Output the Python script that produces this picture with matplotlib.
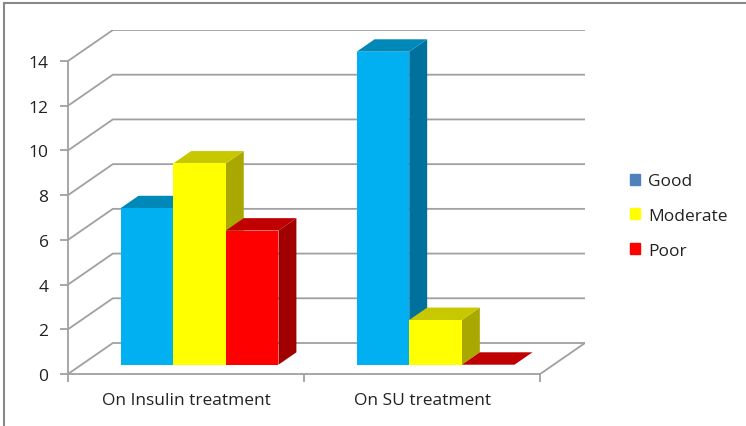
import matplotlib
matplotlib.use('Agg')
import matplotlib.pyplot as plt
from matplotlib.patches import Polygon
from matplotlib.lines import Line2D

categories = ['On Insulin treatment', 'On SU treatment']
series = ['Good', 'Moderate', 'Poor']
good = [7, 14]
moderate = [9, 2]
poor = [6, 0]
yticks = [0, 2, 4, 6, 8, 10, 12, 14]

front_cols = ['#00B0F0', '#FFFF00', '#FF0000']
top_cols = ['#0088B8', '#C8C800', '#C00000']
side_cols = ['#00709C', '#A8A800', '#A00000']
legend_cols = ['#4F81BD', '#FFFF00', '#FF0000']

plt.rcParams['font.family'] = 'Open Sans'

# oblique depth offsets (data units)
DX = 0.19
DY = 1.387
z0, z1 = 0.3, 0.7
w = 0.223

fig = plt.figure(figsize=(7.46, 4.27), dpi=100)
ax = fig.add_axes([68/746, 52/427, 517/746, 344/427])
ax.set_xlim(0, 2 + DX)
ax.set_ylim(0, 14 + DY)

gc = '#A0A0A0'
for v in yticks:
    ax.plot([0, DX, 2 + DX], [v, v + DY, v + DY], color=gc, lw=1.3, zorder=1)
ax.plot([2, 2 + DX], [0, DY], color=gc, lw=1.3, zorder=1)

vals = [good, moderate, poor]
z = 2
for ci in range(len(categories)):
    start = ci + 0.5 - 1.5 * w
    for si in range(len(series)):
        v = vals[si][ci]
        xl = start + si * w + z0 * DX
        yb = z0 * DY
        ddx = (z1 - z0) * DX
        ddy = (z1 - z0) * DY
        xr = xl + w
        # side face
        ax.add_patch(Polygon([(xr, yb), (xr + ddx, yb + ddy), (xr + ddx, yb + v + ddy), (xr, yb + v)],
                             closed=True, facecolor=side_cols[si], edgecolor='none', zorder=z))
        # top face
        ax.add_patch(Polygon([(xl, yb + v), (xr, yb + v), (xr + ddx, yb + v + ddy), (xl + ddx, yb + v + ddy)],
                             closed=True, facecolor=top_cols[si], edgecolor='none', zorder=z))
        ax.bar(xl, v, width=w, bottom=yb, align='edge', color=front_cols[si], zorder=z + 1)
        z += 2

for s in ['top', 'right']:
    ax.spines[s].set_visible(False)
for s in ['left', 'bottom']:
    ax.spines[s].set_color(gc)
    ax.spines[s].set_linewidth(1.3)
ax.spines['left'].set_bounds(0, 14)
ax.spines['bottom'].set_bounds(0, 2)

ax.set_yticks(yticks)
ax.tick_params(axis='y', direction='out', length=6, width=1.3, color=gc, labelsize=12.5, labelcolor='#222222', pad=8)
ax.set_xticks([0, 1, 2])
ax.set_xticklabels(['', '', ''])
ax.tick_params(axis='x', which='major', direction='out', length=6, width=1.3, color=gc)
ax.set_xticks([0.5, 1.5], minor=True)
ax.set_xticklabels(categories, minor=True)
ax.tick_params(axis='x', which='minor', length=0, labelsize=12.5, labelcolor='#222222', pad=13)
ax.patch.set_visible(False)

handles = [plt.Rectangle((0, 0), 1, 1, color=c) for c in legend_cols]
fig.legend(handles, series, loc='center left', bbox_to_anchor=(614/746, 1 - 217/427),
           frameon=False, fontsize=12.5, handlelength=0.6, handleheight=0.6,
           handletextpad=0.45, labelspacing=1.08, labelcolor='#222222')

# chart border (left and top)
fig.add_artist(Line2D([4/746, 4/746], [0, 1 - 4/427], color='#888888', lw=1.5))
fig.add_artist(Line2D([4/746, 1], [1 - 4/427, 1 - 4/427], color='#888888', lw=1.5))

fig.savefig('out.png', dpi=100)
